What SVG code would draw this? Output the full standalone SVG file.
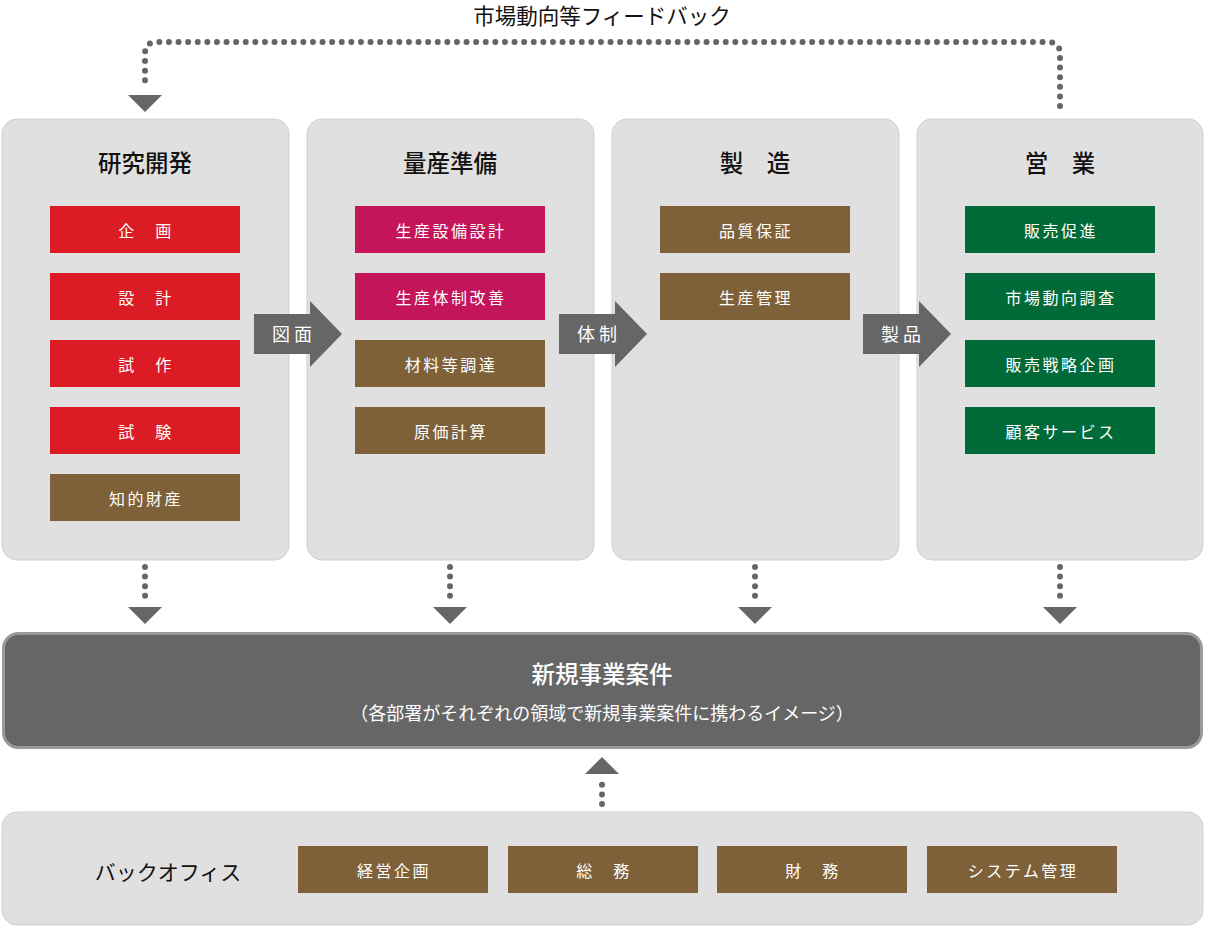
<svg xmlns="http://www.w3.org/2000/svg" width="1205" height="927" viewBox="0 0 1205 927">
<style>
.panel{fill:#e0e0e0;stroke:#cfcfcf;stroke-width:1}
.head{font-family:"Noto Sans CJK JP",sans-serif;font-size:23.5px;fill:#111;text-anchor:middle;font-weight:500}
.lbl{font-family:"Noto Sans CJK JP",sans-serif;font-size:16px;fill:#fff;text-anchor:middle;letter-spacing:2.5px}
.red{fill:#dc1c24}.mag{fill:#c4145a}.brn{fill:#7f6139}.grn{fill:#006b38}
.dot{fill:none;stroke:#666;stroke-width:6;stroke-linecap:round;stroke-dasharray:0 9.6}
.tri{fill:#666}
.arr{font-family:"Noto Sans CJK JP",sans-serif;font-size:18px;fill:#fff;text-anchor:middle;letter-spacing:4px}
</style>
<rect width="1205" height="927" fill="#fff"/>
<text x="602" y="24" font-family="'Noto Sans CJK JP',sans-serif" font-size="21.5" fill="#111" text-anchor="middle">市場動向等フィードバック</text>

<g id="connectors">
<path class="dot" d="M1060 106 V54 Q1060 42 1048 42 H157 Q145 42 145 54 V89"/>
<polygon class="tri" points="128,95 162,95 145,112"/>
<path class="dot" d="M145 567 V601"/><polygon class="tri" points="128,607 162,607 145,624"/>
<path class="dot" d="M450 567 V601"/><polygon class="tri" points="433,607 467,607 450,624"/>
<path class="dot" d="M755 567 V601"/><polygon class="tri" points="738,607 772,607 755,624"/>
<path class="dot" d="M1060 567 V601"/><polygon class="tri" points="1043,607 1077,607 1060,624"/>
<path class="dot" d="M602 804 V782"/><polygon class="tri" points="585,774 619,774 602,757"/>
</g>

<g id="col1">
<rect class="panel" x="2" y="119" width="287" height="441" rx="15"/>
<text class="head" x="145" y="172">研究開発</text>
<rect class="red" x="50" y="206" width="190" height="47"/><text class="lbl" x="146" y="237">企　画</text>
<rect class="red" x="50" y="273" width="190" height="47"/><text class="lbl" x="146" y="304">設　計</text>
<rect class="red" x="50" y="340" width="190" height="47"/><text class="lbl" x="146" y="371">試　作</text>
<rect class="red" x="50" y="407" width="190" height="47"/><text class="lbl" x="146" y="438">試　験</text>
<rect class="brn" x="50" y="474" width="190" height="47"/><text class="lbl" x="146" y="505">知的財産</text>
</g>

<g id="col2">
<rect class="panel" x="307" y="119" width="287" height="441" rx="15"/>
<text class="head" x="450" y="172">量産準備</text>
<rect class="mag" x="355" y="206" width="190" height="47"/><text class="lbl" x="451" y="237">生産設備設計</text>
<rect class="mag" x="355" y="273" width="190" height="47"/><text class="lbl" x="451" y="304">生産体制改善</text>
<rect class="brn" x="355" y="340" width="190" height="47"/><text class="lbl" x="451" y="371">材料等調達</text>
<rect class="brn" x="355" y="407" width="190" height="47"/><text class="lbl" x="451" y="438">原価計算</text>
</g>

<g id="col3">
<rect class="panel" x="612" y="119" width="287" height="441" rx="15"/>
<text class="head" x="755" y="172">製　造</text>
<rect class="brn" x="660" y="206" width="190" height="47"/><text class="lbl" x="756" y="237">品質保証</text>
<rect class="brn" x="660" y="273" width="190" height="47"/><text class="lbl" x="756" y="304">生産管理</text>
</g>

<g id="col4">
<rect class="panel" x="917" y="119" width="286" height="441" rx="15"/>
<text class="head" x="1060" y="172">営　業</text>
<rect class="grn" x="965" y="206" width="190" height="47"/><text class="lbl" x="1061" y="237">販売促進</text>
<rect class="grn" x="965" y="273" width="190" height="47"/><text class="lbl" x="1061" y="304">市場動向調査</text>
<rect class="grn" x="965" y="340" width="190" height="47"/><text class="lbl" x="1061" y="371">販売戦略企画</text>
<rect class="grn" x="965" y="407" width="190" height="47"/><text class="lbl" x="1061" y="438">顧客サービス</text>
</g>

<g id="arrow1">
<polygon class="tri" points="254,314 310,314 310,301 342,334 310,367 310,354 254,354"/>
<text class="arr" x="294" y="341">図面</text>
</g>
<g id="arrow2">
<polygon class="tri" points="559,314 615,314 615,301 647,334 615,367 615,354 559,354"/>
<text class="arr" x="599" y="341">体制</text>
</g>
<g id="arrow3">
<polygon class="tri" points="863,314 919,314 919,301 951,334 919,367 919,354 863,354"/>
<text class="arr" x="903" y="341">製品</text>
</g>

<g id="newbiz">
<rect x="3.5" y="633.5" width="1198" height="114" rx="15" fill="#666" stroke="#999" stroke-width="3"/>
<text x="602" y="683" font-family="'Noto Sans CJK JP',sans-serif" font-size="23.5" fill="#fff" text-anchor="middle" font-weight="500">新規事業案件</text>
<text x="602" y="720" font-family="'Noto Sans CJK JP',sans-serif" font-size="18" fill="#fff" text-anchor="middle">（各部署がそれぞれの領域で新規事業案件に携わるイメージ）</text>
</g>

<g id="backoffice">
<rect class="panel" x="2" y="812" width="1201" height="113" rx="15"/>
<text x="168" y="880" font-family="'Noto Sans CJK JP',sans-serif" font-size="21" fill="#111" text-anchor="middle">バックオフィス</text>
<rect class="brn" x="298" y="846" width="190" height="47"/><text class="lbl" x="394" y="877">経営企画</text>
<rect class="brn" x="508" y="846" width="190" height="47"/><text class="lbl" x="604" y="877">総　務</text>
<rect class="brn" x="717" y="846" width="190" height="47"/><text class="lbl" x="813" y="877">財　務</text>
<rect class="brn" x="927" y="846" width="190" height="47"/><text class="lbl" x="1023" y="877">システム管理</text>
</g>
</svg>
